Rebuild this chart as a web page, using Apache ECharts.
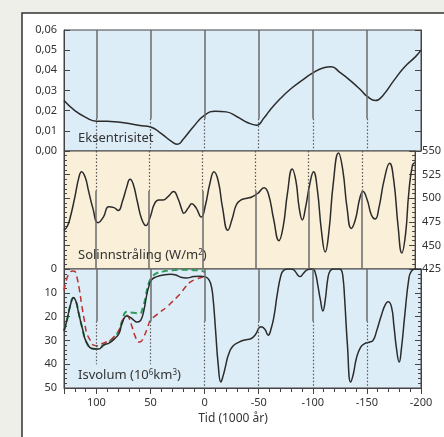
<!DOCTYPE html>
<html>
<head>
<meta charset="utf-8">
<script src="https://cdn.jsdelivr.net/npm/echarts@6/dist/echarts.min.js"></script>
<style>
  html, body { margin: 0; padding: 0; background: #efefea; }
  #chart { width: 444px; height: 437px; }
</style>
</head>
<body>
<div id="chart"></div>
<script>
// tid i 1000 år (positiv = før nå)
var eccTime = [130, 120, 110, 100, 90, 80, 70, 60, 50, 40, 30, 25, 20, 10, 0, -10, -20, -30, -40, -48, -55, -60, -70, -80, -90, -100, -110, -117, -125, -135, -145, -150, -158, -165, -175, -185, -195, -200];
var eccValue = [0.025, 0.020, 0.0167, 0.0148, 0.0147, 0.0144, 0.0136, 0.0126, 0.0119, 0.0086, 0.0045, 0.0033, 0.0057, 0.0123, 0.0178, 0.0197, 0.0194, 0.017, 0.014, 0.0128, 0.0165, 0.020, 0.026, 0.031, 0.035, 0.0387, 0.0413, 0.0418, 0.039, 0.0348, 0.0299, 0.0272, 0.025, 0.0277, 0.035, 0.0418, 0.0468, 0.050];

var solTime = [130, 127, 124.5, 120, 116, 113.5, 110, 107, 103, 98, 93, 88, 83, 79, 75, 71, 68, 65, 61, 57, 53, 49, 45, 41, 37, 32, 27, 23, 19, 17.5, 13, 10, 6, 1, -3, -7, -11, -15, -19, -24, -28, -32, -36, -42, -46, -52, -58, -62, -67, -72, -76, -80, -84.5, -88, -91, -94, -97, -101, -104.5, -108, -112, -115.5, -119, -123, -128, -132, -136, -140, -144, -148, -151, -155, -159, -162.5, -166, -171, -176, -180, -184, -187.5, -191, -194, -197.5, -200];
var solValue = [466, 470, 478, 500, 522, 528, 522, 508, 490, 474, 480, 491, 490, 487, 497, 512, 520, 515, 496, 478, 471, 480, 494, 498, 498, 502, 507, 500, 487, 484, 490, 494, 490, 480, 493, 515, 528, 518, 490, 466, 478, 493, 498, 500, 501, 505, 511, 505, 478, 455, 470, 505, 531, 518, 490, 477, 490, 515, 528, 510, 465, 443, 465, 515, 548, 530, 490, 468, 478, 500, 507, 498, 482, 478, 490, 520, 537, 518, 470, 442, 462, 505, 535, 538];

var iceTime = [130, 127, 124, 121.3, 119, 116.7, 113, 109, 103, 98, 93.5, 88, 82.6, 79, 76.4, 72, 68, 65.6, 62, 59, 56, 54, 51.7, 49, 44, 38, 31.6, 26, 22, 17, 10, 4, 0, -3, -5.5, -7.5, -10.2, -12.5, -15, -17, -19.5, -22, -26, -31.8, -37, -42.7, -47, -52, -55.5, -58.8, -61.5, -64.3, -67, -70.6, -73, -77, -80, -83, -86, -88.2, -91, -94, -97, -100, -102.5, -104.6, -107, -109.3, -111.5, -113.9, -116, -119, -124, -126.3, -128, -129.4, -132, -135, -137.5, -140.2, -144, -148, -152, -155.7, -159, -163.4, -167, -169.6, -172.7, -175, -177.5, -179.8, -182, -185, -188.8, -191, -194.4, -200];
var iceValue = [26, 21, 15, 12.1, 13.5, 18, 25, 31, 33.5, 33.6, 32, 31, 29, 27, 23, 19.7, 20.5, 21.5, 22.3, 21.5, 17, 12, 7.5, 4.5, 3.2, 2.5, 2.2, 2.6, 3.5, 3.8, 3.2, 3.0, 3.2, 4, 6, 11, 26.4, 40, 47.5, 45, 40.5, 36, 32.5, 30.7, 29.8, 29.3, 27.5, 24.3, 25.2, 27.8, 25, 19.4, 11, 2.5, 0.6, 0, 0, 0.6, 2.5, 3.2, 2.0, 0.6, 0.1, 0, 2, 6.8, 13, 17.6, 13, 3.9, 0.8, 0, 0, 0.4, 4, 12.4, 32, 47.5, 44, 37.7, 33, 31.4, 30.8, 30, 26, 19.4, 15, 13.8, 15.9, 24, 34, 39.1, 33, 19.4, 3.9, 1, 0, 0];

var redTime = [130, 128, 125.9, 122, 120, 118.2, 116, 113.6, 111, 108.9, 105, 102.8, 99, 95, 90, 86, 82.6, 79, 76.4, 73, 71.8, 69.5, 67.1, 64, 61, 59, 56.4, 53, 50.1, 45, 40.9, 35, 31.6, 25.3, 22.3, 17.6, 13, 8, 3.7, 0];
var redValue = [9, 5, 2.5, 0.8, 1, 3.2, 8, 15.2, 22, 27, 30.5, 32, 32.3, 31.4, 30.5, 29.5, 27.8, 25.5, 22.2, 19.6, 19.4, 21, 24.3, 28.5, 30.7, 30.5, 28.6, 25, 21.5, 19.5, 18, 16, 14.5, 11.7, 10.3, 7.5, 5.4, 4.3, 3.7, 3];

var greenTime = [130, 127, 124, 121.3, 119, 116.7, 113, 109, 103, 98, 93.5, 88, 82.6, 79, 76.4, 72, 68, 64, 60, 57, 54.8, 51.7, 48, 44, 38, 30, 20, 10, 2, 0];
var greenValue = [26, 21, 15, 12.1, 13.5, 18, 25, 31, 33.5, 33.6, 32, 30.5, 28, 26, 22, 18, 18.3, 18.5, 18.7, 16, 12.3, 6, 3, 1.7, 1, 0.5, 0.3, 0.5, 0.8, 1.5];

// hjelpelinjer
var guideTime = [100, 50, 0, -50, -100, -150];

function pairs(t, v) {
    var out = [];
    for (var i = 0; i < t.length; i++) out.push([t[i], v[i]]);
    return out;
}

function guides(from, mid, to, midType, endType, endOverride) {
    var list = [];
    guideTime.forEach(function (t) {
        var end = (endOverride && endOverride[t] !== undefined) ? endOverride[t] : to;
        list.push([{ coord: [t, from], lineStyle: midType }, { coord: [t, mid] }]);
        list.push([{ coord: [t, mid], lineStyle: endType }, { coord: [t, end] }]);
    });
    return list;
}

var solidGuide = { color: '#6a6a6a', width: 1.5, type: 'solid' };
var dotGuide = { color: '#555', width: 1.2, type: [1.5, 2] };

var chart = echarts.init(document.getElementById('chart'));
var fontFamily = '"Noto Sans", sans-serif';
var labelStyle = { color: '#333', fontSize: 11, fontFamily: fontFamily };

var gridBase = { left: 64, width: 357, show: true, borderColor: '#444', borderWidth: 1 };

function xAx(grid, extra) {
    return Object.assign({
        gridIndex: grid, type: 'value', min: -200, max: 130, inverse: true,
        show: false, splitLine: { show: false }
    }, extra || {});
}

function yAx(grid, pos, min, max, interval, inv, showLabel, minor, fmt) {
    return {
        gridIndex: grid, type: 'value', position: pos, min: min, max: max, interval: interval,
        inverse: inv,
        axisLine: { show: true, onZero: false, lineStyle: { color: '#444', width: 1 } },
        axisTick: { show: true, inside: true, length: 6, lineStyle: { color: '#444' } },
        minorTick: { show: minor, splitNumber: 5, length: 3, lineStyle: { color: '#444' } },
        axisLabel: Object.assign({ show: showLabel, margin: 7, formatter: fmt }, labelStyle),
        splitLine: { show: false }
    };
}

// tekst med hevet skrift
var richSup = { sup: { fontSize: 8, verticalAlign: 'top', padding: [0, 0, 5, 0], fill: '#333', fontFamily: fontFamily } };

var option = {
    backgroundColor: '#efefea',
    animation: false,
    graphic: [
        { type: 'rect', shape: { x: 22, y: 13, width: 440, height: 440 }, style: { fill: '#fff', stroke: '#333', lineWidth: 1.5 }, z: -10 },
        { type: 'text', left: 78, top: 132, style: { text: 'Eksentrisitet', fill: '#333', font: '13px ' + fontFamily }, z: 10 },
        { type: 'text', left: 78, top: 249, style: { text: 'Solinnstråling (W/m{sup|2})', fill: '#333', font: '13px ' + fontFamily, rich: richSup }, z: 10 },
        { type: 'text', left: 78, top: 369, style: { text: 'Isvolum (10{sup|6}km{sup|3})', fill: '#333', font: '13px ' + fontFamily, rich: richSup }, z: 10 },
        { type: 'text', x: 233, y: 413, style: { text: 'Tid (1000 år)', fill: '#333', font: '12px ' + fontFamily, align: 'center' }, z: 10 }
    ],
    grid: [
        Object.assign({ top: 30, height: 121, backgroundColor: '#ddedf7' }, gridBase),
        Object.assign({ top: 151, height: 118, backgroundColor: '#faefd9' }, gridBase),
        Object.assign({ top: 269, height: 119, backgroundColor: '#ddedf7' }, gridBase)
    ],
    xAxis: [
        xAx(0),
        xAx(1),
        xAx(2, {
            show: true, position: 'bottom', interval: 50,
            axisLine: { show: true, onZero: false, lineStyle: { color: '#444' } },
            axisTick: { show: true, length: 6, lineStyle: { color: '#444' } },
            axisLabel: Object.assign({
                margin: 9,
                formatter: function (v) { return (v % 50 === 0 && v <= 100) ? String(v) : ''; }
            }, labelStyle)
        }),
        xAx(2, {
            show: true, position: 'bottom', interval: 10,
            axisLine: { show: false, onZero: false },
            axisTick: { show: true, length: 4, lineStyle: { color: '#444' } },
            axisLabel: { show: false }
        })
    ],
    yAxis: [
        yAx(0, 'left', 0, 0.06, 0.01, false, true, false, function (v) { return v.toFixed(2).replace('.', ','); }),
        yAx(0, 'right', 0, 0.06, 0.01, false, false, false),
        yAx(1, 'left', 425, 550, 25, false, false, true),
        yAx(1, 'right', 425, 550, 25, false, true, true),
        yAx(2, 'left', 0, 50, 10, true, true, true),
        yAx(2, 'right', 0, 50, 10, true, false, true)
    ],
    series: [
        {
            name: 'Eksentrisitet', type: 'line', xAxisIndex: 0, yAxisIndex: 0,
            data: pairs(eccTime, eccValue), smooth: 0.5, symbol: 'none',
            lineStyle: { color: '#2b2b2b', width: 1.5 },
            markLine: { silent: true, symbol: 'none', label: { show: false }, data: guides(0.06, 0.016, 0, solidGuide, dotGuide) }
        },
        {
            name: 'Solinnstråling', type: 'line', xAxisIndex: 1, yAxisIndex: 3,
            data: pairs(solTime, solValue), smooth: 0.5, symbol: 'none',
            lineStyle: { color: '#2b2b2b', width: 1.5 },
            markLine: { silent: true, symbol: 'none', label: { show: false }, data: guides(550, 508, 425, dotGuide, solidGuide) }
        },
        {
            name: 'Grønn', type: 'line', xAxisIndex: 2, yAxisIndex: 4,
            data: pairs(greenTime, greenValue), smooth: 0.5, symbol: 'none',
            lineStyle: { color: '#2f9a5c', width: 2, type: [6, 4] },
            markLine: { silent: true, symbol: 'none', label: { show: false }, data: guides(0, 22, 50, solidGuide, dotGuide, { 100: 40, 50: 40 }) }
        },
        {
            name: 'Rød', type: 'line', xAxisIndex: 2, yAxisIndex: 4,
            data: pairs(redTime, redValue), smooth: 0.5, symbol: 'none',
            lineStyle: { color: '#b8322f', width: 1.5, type: [6, 4] }
        },
        {
            name: 'Isvolum', type: 'line', xAxisIndex: 2, yAxisIndex: 4,
            data: pairs(iceTime, iceValue), smooth: 0.5, symbol: 'none',
            lineStyle: { color: '#2b2b2b', width: 1.5 }
        }
    ]
};

chart.setOption(option);
</script>
</body>
</html>
